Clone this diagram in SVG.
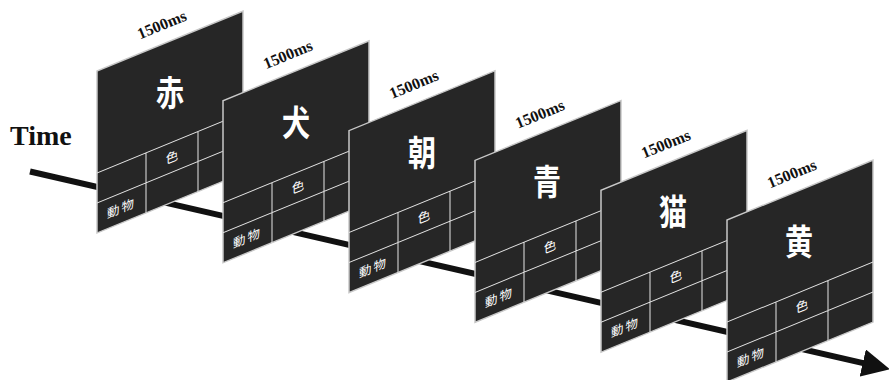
<svg xmlns="http://www.w3.org/2000/svg" width="889" height="380" viewBox="0 0 889 380">
<defs>
<style>
.pan{fill:#262626;stroke:#c8c8c8;stroke-width:1.5}
.grid{stroke:#e6e6e6;stroke-width:1;fill:none}
.big{font-family:"Noto Sans CJK JP","Noto Sans CJK SC",sans-serif;font-size:35px;font-weight:bold;fill:#fff;text-anchor:middle}
.sm{font-family:"Noto Sans CJK JP","Noto Sans CJK SC",sans-serif;font-size:12.5px;fill:#fff;text-anchor:middle}
.ms{font-family:"Liberation Serif","Times New Roman",serif;font-size:16px;font-weight:bold;fill:#111;text-anchor:middle}
.time{font-family:"Liberation Serif","Times New Roman",serif;font-size:28px;font-weight:bold;fill:#111}
</style>
<marker id="ah" markerUnits="userSpaceOnUse" markerWidth="28" markerHeight="28" viewBox="0 0 28 28" refX="5" refY="14" orient="auto">
<path d="M0,0 L28,14 L0,28 z" fill="#111"/>
</marker>
<g id="panelshape">
<rect class="pan" x="0" y="0" width="146" height="162"/>
<path class="grid" d="M0,102 H146 M0,132 H146 M49,102 V162 M101,102 V162"/>
</g>
</defs>
<text class="time" x="10" y="145">Time</text>
<g id="connectors">
<line x1="30" y1="171.5" x2="867.6" y2="364.2" stroke="#111" stroke-width="6" marker-end="url(#ah)"/>
</g>
<g id="panel1">
<g transform="translate(97,71) skewY(-22.3)"><use href="#panelshape"/><text class="sm" x="75" y="121.5">色</text><text class="sm" x="24.5" y="151.5" letter-spacing="2">動物</text></g>
<text class="big" transform="translate(170,106) scale(0.8,1)">赤</text>
<text class="ms" transform="translate(162,25) rotate(-22.3)" y="5">1500ms</text>
</g>
<g id="panel2">
<g transform="translate(223,100.8) skewY(-22.3)"><use href="#panelshape"/><text class="sm" x="75" y="121.5">色</text><text class="sm" x="24.5" y="151.5" letter-spacing="2">動物</text></g>
<text class="big" transform="translate(296,135.8) scale(0.8,1)">犬</text>
<text class="ms" transform="translate(288,54.8) rotate(-22.3)" y="5">1500ms</text>
</g>
<g id="panel3">
<g transform="translate(349,130.6) skewY(-22.3)"><use href="#panelshape"/><text class="sm" x="75" y="121.5">色</text><text class="sm" x="24.5" y="151.5" letter-spacing="2">動物</text></g>
<text class="big" transform="translate(422,165.6) scale(0.8,1)">朝</text>
<text class="ms" transform="translate(414,84.6) rotate(-22.3)" y="5">1500ms</text>
</g>
<g id="panel4">
<g transform="translate(475,160.4) skewY(-22.3)"><use href="#panelshape"/><text class="sm" x="75" y="121.5">色</text><text class="sm" x="24.5" y="151.5" letter-spacing="2">動物</text></g>
<text class="big" transform="translate(547,195.4) scale(0.8,1)">青</text>
<text class="ms" transform="translate(540,114.4) rotate(-22.3)" y="5">1500ms</text>
</g>
<g id="panel5">
<g transform="translate(601,190.2) skewY(-22.3)"><use href="#panelshape"/><text class="sm" x="75" y="121.5">色</text><text class="sm" x="24.5" y="151.5" letter-spacing="2">動物</text></g>
<text class="big" transform="translate(673,225.2) scale(0.8,1)">猫</text>
<text class="ms" transform="translate(666,144.2) rotate(-22.3)" y="5">1500ms</text>
</g>
<g id="panel6">
<g transform="translate(727,220) skewY(-22.3)"><use href="#panelshape"/><text class="sm" x="75" y="121.5">色</text><text class="sm" x="24.5" y="151.5" letter-spacing="2">動物</text></g>
<text class="big" transform="translate(799,255) scale(0.8,1)">黄</text>
<text class="ms" transform="translate(792,174) rotate(-22.3)" y="5">1500ms</text>
</g>
</svg>
